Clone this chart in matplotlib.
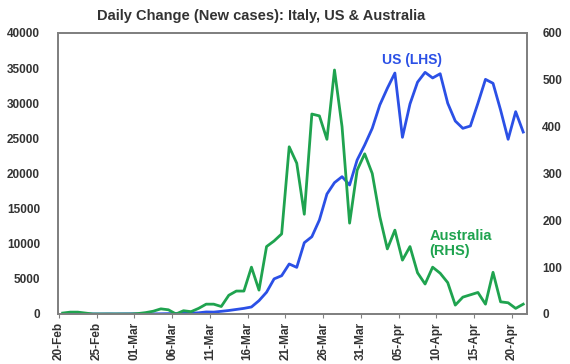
import matplotlib
matplotlib.use("Agg")
import numpy as np
import pandas as pd
import matplotlib.pyplot as plt
import matplotlib.dates as mdates

plt.rcParams['font.family'] = ['Liberation Sans', 'DejaVu Sans']

# daily data, 20-Feb to 21-Apr
dates = pd.date_range('2020-02-20', '2020-04-21', freq='D')

us_cases = [0, 0, 0, 0, 5, 0, 10, 5, 15, 20,
            10, 20, 20, 30, 50, 70, 100, 120, 170, 290,
            270, 380, 500, 650, 800,
            1000, 1900, 3100, 5000, 5450, 7120, 6640, 10150, 11000, 13380,
            17080, 18700, 19550, 18360, 21920, 24060, 26430, 29750, 32130, 34300,
            25150, 29900, 33000, 34400, 33600, 34200, 30000, 27470, 26430, 26760,
            30000, 33400, 32840, 29040, 24870, 28800, 25900]

aus_cases = [2, 4, 4, 2, 0, 0, 0, 0, 0, 0,
             1, 3, 6, 11, 9, 0, 7, 5, 12, 21,
             21, 16, 40, 49, 49,
             100, 51, 144, 156, 171, 357, 322, 213, 427, 423,
             373, 521, 400, 194, 307, 342, 300, 208, 139, 179,
             115, 144, 88, 64, 100, 87, 67, 19, 36, 41,
             46, 21, 89, 26, 24, 12, 21]

tick_dates = ['2020-02-20', '2020-02-25', '2020-03-01', '2020-03-06', '2020-03-11',
              '2020-03-16', '2020-03-21', '2020-03-26', '2020-03-31', '2020-04-05',
              '2020-04-10', '2020-04-15', '2020-04-20']

blue = '#2b50e6'
green = '#1fa34f'
grey = '#808080'
txt = '#333333'

fig = plt.figure(figsize=(5.7, 3.64), dpi=100)
ax = fig.add_axes([58/570, 50/364, 469/570, 281/364])
ax2 = ax.twinx()

# points sit in the middle of each day, like the source chart
x = dates + pd.Timedelta(hours=12)
ax.plot(x, us_cases, color=blue, lw=2.0, zorder=3)
ax2.plot(x, aus_cases, color=green, lw=2.0, zorder=2)

ax.set_ylim(0, 40000)
ax.set_yticks(np.arange(0, 40001, 5000))
ax2.set_ylim(0, 600)
ax2.set_yticks(np.arange(0, 601, 100))

ax.set_xlim(pd.Timestamp('2020-02-20') - pd.Timedelta(hours=3), pd.Timestamp('2020-04-22'))
ax.set_xticks(pd.to_datetime(tick_dates))
ax.xaxis.set_major_formatter(mdates.DateFormatter('%d-%b'))

for lab in ax.get_xticklabels():
    lab.set_rotation(90)
ax.tick_params(axis='x', length=3, width=0.8, color=grey, labelsize=8.5, pad=3, labelcolor=txt)
ax.tick_params(axis='y', length=0, labelsize=8.5, pad=13, labelcolor=txt)
ax2.tick_params(axis='y', length=0, labelsize=8.5, pad=11, labelcolor=txt)
for lab in ax.get_xticklabels() + ax.get_yticklabels() + ax2.get_yticklabels():
    lab.set_fontweight('bold')

for a in (ax, ax2):
    for s in a.spines.values():
        s.set_color(grey)
        s.set_linewidth(1.3)

ax.text(46.8 / 62, 0.905, 'US (LHS)', transform=ax.transAxes, color=blue,
        fontsize=10, fontweight='bold', ha='center', va='center')
ax.text(49.1 / 62, 0.25, 'Australia\n(RHS)', transform=ax.transAxes, color=green,
        fontsize=10.5, fontweight='bold', ha='left', va='center', linespacing=1.1)

fig.text(261/570, 1 - 16/364, 'Daily Change (New cases): Italy, US & Australia',
         ha='center', va='center', fontsize=10.5, fontweight='bold', color=txt)

fig.savefig('out.png', dpi=100)
